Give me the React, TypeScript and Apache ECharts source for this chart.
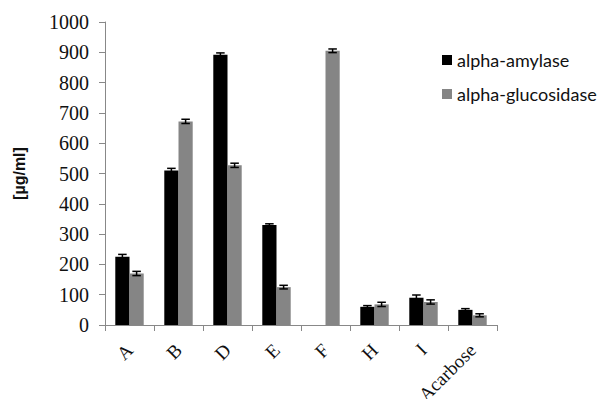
import React, { useEffect, useRef } from "react";
import * as echarts from "echarts";

const categories = ["A", "B", "D", "E", "F", "H", "I", "Acarbose"];
const amylase = [225, 510, 892, 330, null, 60, 90, 50];
const amylaseErr = [8, 7, 6, 4, 0, 4, 9, 4];
const glucosidase = [170, 672, 527, 125, 905, 68, 76, 32];
const glucosidaseErr = [7, 7, 7, 6, 6, 7, 7, 5];
const yTicks = { min: 0, max: 1000, interval: 100 };

const BAR_FRAC = 0.29;

function errorSeries(vals: (number | null)[], errs: number[], side: number) {
  const data = vals.map((v, i) => [i, v == null ? 0 : v, v == null ? 0 : errs[i], v == null ? 0 : 1]);
  return {
    type: "custom",
    silent: true,
    z: 10,
    data,
    encode: { x: 0, y: 1 },
    renderItem: (params: any, api: any) => {
      if (!api.value(3)) return null;
      const i = api.value(0);
      const v = api.value(1);
      const e = api.value(2);
      const cw = api.size([1, 0])[0];
      const bw = cw * BAR_FRAC;
      const cx = api.coord([i, v])[0] + side * bw / 2;
      const top = api.coord([i, v + e])[1];
      const bot = api.coord([i, v - e])[1];
      const cap = bw * 0.3;
      const st = { stroke: "#000", lineWidth: 1.5 };
      return {
        type: "group",
        children: [
          { type: "line", shape: { x1: cx, y1: top, x2: cx, y2: bot }, style: st },
          { type: "line", shape: { x1: cx - cap, y1: top, x2: cx + cap, y2: top }, style: st },
          { type: "line", shape: { x1: cx - cap, y1: bot, x2: cx + cap, y2: bot }, style: st },
        ],
      };
    },
  };
}

export default function App() {
  const ref = useRef<HTMLDivElement>(null);
  useEffect(() => {
    const chart = echarts.init(ref.current!, null, { renderer: "svg" });
    chart.setOption({
      animation: false,
      backgroundColor: "#fff",
      grid: { left: 105, right: 108, top: 22, bottom: 82, outerBoundsMode: "none", containLabel: false },
      legend: {
        orient: "vertical",
        left: 437,
        top: 46,
        itemWidth: 10,
        itemHeight: 10,
        itemGap: 16,
        icon: "rect",
        textStyle: { fontFamily: "Lato", fontSize: 18, color: "#111" },
        data: ["alpha-amylase", "alpha-glucosidase"],
      },
      xAxis: {
        type: "category",
        data: categories,
        axisLine: { lineStyle: { color: "#888", width: 1 } },
        axisTick: { show: true, length: 6, lineStyle: { color: "#888" } },
        axisLabel: {
          rotate: 45,
          margin: 22,
          fontFamily: "Liberation Serif",
          fontSize: 19,
          color: "#111",
          interval: 0,
        },
      },
      yAxis: {
        type: "value",
        min: yTicks.min,
        max: yTicks.max,
        interval: yTicks.interval,
        name: "[µg/ml]",
        nameLocation: "middle",
        nameRotate: 90,
        nameGap: 78,
        nameTextStyle: { fontFamily: "Liberation Sans", fontWeight: "bold", fontSize: 16, color: "#111" },
        axisLine: { show: true, lineStyle: { color: "#888", width: 1 } },
        axisTick: { show: true, length: 6, lineStyle: { color: "#888" } },
        splitLine: { show: false },
        axisLabel: {
          fontFamily: "Liberation Serif",
          fontSize: 20,
          color: "#111",
          margin: 16,
          formatter: (v: number) => String(v),
        },
      },
      series: [
        {
          name: "alpha-amylase",
          type: "bar",
          data: amylase,
          barWidth: BAR_FRAC * 100 + "%",
          barGap: "0%",
          itemStyle: { color: "#000" },
        },
        {
          name: "alpha-glucosidase",
          type: "bar",
          data: glucosidase,
          barWidth: BAR_FRAC * 100 + "%",
          barGap: "0%",
          itemStyle: { color: "#858585" },
        },
        errorSeries(amylase, amylaseErr, -1),
        errorSeries(glucosidase, glucosidaseErr, 1),
      ],
    });
    return () => chart.dispose();
  }, []);
  return <div ref={ref} style={{ width: 605, height: 407, margin: -8 }} />;
}
